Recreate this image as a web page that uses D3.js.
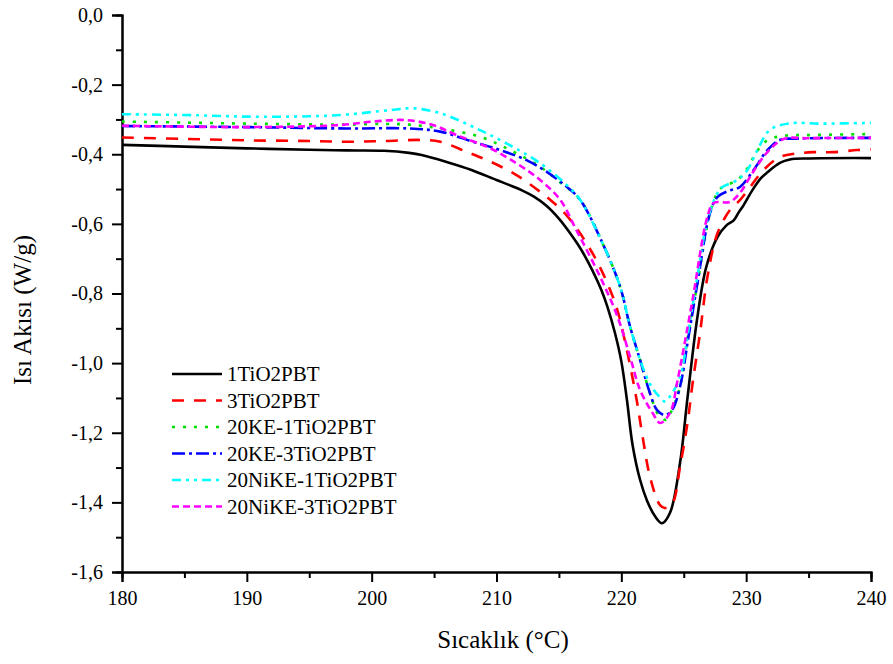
<!DOCTYPE html>
<html>
<head>
<meta charset="utf-8">
<script src="https://cdn.jsdelivr.net/npm/d3@7"></script>
<style>
  html, body { margin: 0; padding: 0; background: #fff; }
  svg { display: block; }
  text { font-family: "Liberation Serif", "Times New Roman", serif; fill: #000; }
</style>
</head>
<body>
<svg id="chart" width="893" height="664"></svg>
<script>
// DSC heat-flow curves: [temperature °C, heat flow W/g]
const s1TiO2PBT = [
  [180,-0.373],[185,-0.378],[190,-0.383],[195,-0.387],[198,-0.389],[201,-0.390],[203,-0.396],
  [204,-0.402],[206,-0.422],[208,-0.445],[210,-0.474],[211,-0.488],[212,-0.503],[213,-0.522],
  [214,-0.548],[215,-0.585],[215.9,-0.627],[216.8,-0.675],[217.7,-0.735],[218.4,-0.79],
  [218.9,-0.84],[219.5,-0.915],[220,-0.995],[220.45,-1.106],[220.9,-1.235],[221.5,-1.335],
  [222.06,-1.395],[222.7,-1.44],[223.26,-1.460],[223.9,-1.43],[224.7,-1.287],[225.3,-1.10],
  [226.06,-0.876],[226.8,-0.724],[227.7,-0.638],[228.4,-0.605],[229.0,-0.590],[229.4,-0.567],
  [229.8,-0.546],[230.5,-0.503],[231.2,-0.468],[231.7,-0.452],[232.7,-0.425],[233.5,-0.415],
  [235,-0.412],[240,-0.411]
];
const s3TiO2PBT = [
  [180,-0.352],[185,-0.356],[190,-0.360],[195,-0.362],[198,-0.364],[201,-0.362],[204,-0.359],
  [205.5,-0.364],[207.6,-0.393],[209.5,-0.421],[211.6,-0.46],[213.5,-0.508],[214.6,-0.54],
  [215.6,-0.575],[216.6,-0.622],[217.7,-0.685],[218.6,-0.748],[219.6,-0.838],[220.4,-0.955],
  [221.2,-1.10],[221.7,-1.21],[222.3,-1.327],[223.1,-1.408],[223.5,-1.416],[224.1,-1.402],
  [224.7,-1.298],[225.3,-1.172],[225.7,-1.06],[226.3,-0.914],[226.9,-0.752],[227.7,-0.627],
  [228.7,-0.56],[229.5,-0.532],[230.1,-0.505],[231.4,-0.445],[232.7,-0.408],[234,-0.398],
  [235.4,-0.394],[237,-0.394],[238.9,-0.388],[240,-0.386]
];
const s20KE1TiO2PBT = [
  [180,-0.306],[185,-0.309],[190,-0.312],[195,-0.314],[198,-0.315],[201,-0.313],[203,-0.315],
  [205.5,-0.326],[208.7,-0.35],[211.1,-0.388],[213.5,-0.436],[215,-0.478],[216.7,-0.531],
  [218.5,-0.656],[219.9,-0.78],[220.7,-0.895],[221.5,-0.991],[222.3,-1.087],[223,-1.15],
  [223.6,-1.163],[224.1,-1.13],[224.7,-1.068],[225.3,-0.93],[226.1,-0.77],[227.1,-0.569],
  [227.7,-0.51],[228.1,-0.494],[229.3,-0.474],[230.1,-0.44],[230.9,-0.39],[231.7,-0.36],
  [233,-0.347],[235,-0.345],[240,-0.342]
];
const s20KE3TiO2PBT = [
  [180,-0.319],[190,-0.322],[198,-0.326],[203,-0.326],[205.5,-0.335],[208.1,-0.364],
  [210.3,-0.388],[212.4,-0.417],[214,-0.45],[215.6,-0.493],[216.7,-0.531],[218.5,-0.656],
  [219.9,-0.78],[220.7,-0.895],[221.5,-0.991],[222.3,-1.087],[222.86,-1.135],[223.5,-1.149],
  [224.06,-1.135],[224.7,-1.068],[225.4,-0.92],[226.1,-0.77],[227.1,-0.569],[227.7,-0.523],
  [228.6,-0.505],[229.5,-0.494],[230.6,-0.445],[231.7,-0.388],[232.7,-0.359],[234,-0.355],
  [240,-0.353]
];
const s20NiKE1TiO2PBT = [
  [180,-0.285],[186,-0.288],[190,-0.292],[195,-0.291],[198,-0.286],[201.5,-0.273],[203.3,-0.268],
  [205.5,-0.282],[208.1,-0.321],[210.8,-0.369],[213.5,-0.426],[215.9,-0.498],[216.7,-0.531],
  [218.5,-0.656],[219.9,-0.78],[220.7,-0.895],[221.5,-0.99],[222.3,-1.06],[223,-1.095],
  [223.5,-1.11],[224,-1.09],[224.7,-1.04],[225.4,-0.9],[226.1,-0.75],[226.9,-0.589],
  [227.7,-0.511],[228.1,-0.494],[229.3,-0.474],[230.1,-0.445],[230.9,-0.388],[231.9,-0.33],
  [233.5,-0.311],[236,-0.312],[240,-0.31]
];
const s20NiKE3TiO2PBT = [
  [180,-0.318],[190,-0.322],[197.5,-0.316],[200.1,-0.306],[202.8,-0.302],[204.9,-0.316],
  [206.8,-0.345],[209.5,-0.383],[211.6,-0.426],[213.5,-0.474],[215.1,-0.531],[216.4,-0.618],
  [218.3,-0.752],[219.7,-0.867],[220.7,-0.982],[221.5,-1.077],[222.5,-1.143],[223.1,-1.172],
  [223.9,-1.143],[224.5,-1.05],[225.7,-0.819],[226.9,-0.579],[227.4,-0.54],[228.7,-0.537],
  [229.5,-0.511],[230.5,-0.454],[231.7,-0.394],[233,-0.356],[235,-0.354],[240,-0.353]
];

const seriesNames = ["1TiO2PBT","3TiO2PBT","20KE-1TiO2PBT","20KE-3TiO2PBT","20NiKE-1TiO2PBT","20NiKE-3TiO2PBT"];
const seriesData = [s1TiO2PBT, s3TiO2PBT, s20KE1TiO2PBT, s20KE3TiO2PBT, s20NiKE1TiO2PBT, s20NiKE3TiO2PBT];
const seriesColors = ["#000000","#ff0000","#00e000","#0000ff","#00ffff","#ff00ff"];
const seriesDash = [null, "12,10", "3,8", "13,4,3,4", "9,5,3,5,3,5", "7,4"];

const xTicks = [180,190,200,210,220,230,240];
const yTicks = [0,-0.2,-0.4,-0.6,-0.8,-1.0,-1.2,-1.4,-1.6];

const svg = d3.select("#chart");
const x = d3.scaleLinear().domain([180,240]).range([122,871]);
const y = d3.scaleLinear().domain([0,-1.6]).range([15,572]);

const fmtY = v => d3.format(".1f")(v).replace(".", ",").replace("−","-");

// Axes with major and minor ticks
const xAxisMinor = d3.axisBottom(x).tickValues(d3.range(185,240,10)).tickSize(6).tickFormat("");
const xAxis = d3.axisBottom(x).tickValues(xTicks).tickSize(10).tickPadding(9).tickFormat(d3.format("d"));
const yAxisMinor = d3.axisLeft(y).tickValues(d3.range(-0.1,-1.6,-0.2)).tickSize(6).tickFormat("");
const yAxis = d3.axisLeft(y).tickValues(yTicks).tickSize(10).tickPadding(9).tickFormat(fmtY);

function styleAxis(g) {
  g.attr("font-family", "'Liberation Serif', serif");
  g.selectAll("path.domain").attr("stroke","#000").attr("stroke-width",2);
  g.selectAll(".tick line").attr("stroke","#000").attr("stroke-width",2);
  g.selectAll(".tick text").style("font-family","'Liberation Serif', serif").style("font-size","20px").attr("fill","#000");
}
svg.append("g").attr("transform","translate(0,572)").call(xAxisMinor).call(styleAxis);
svg.append("g").attr("transform","translate(0,572)").call(xAxis).call(styleAxis);
svg.append("g").attr("transform","translate(122,0)").call(yAxisMinor).call(styleAxis);
svg.append("g").attr("transform","translate(122,0)").call(yAxis).call(styleAxis);

// Curves
const line = d3.line().x(d => x(d[0])).y(d => y(d[1])).curve(d3.curveCatmullRom.alpha(0.5));
seriesData.forEach((data, i) => {
  svg.append("path")
    .datum(data)
    .attr("fill","none")
    .attr("stroke", seriesColors[i])
    .attr("stroke-width", 2.6)
    .attr("stroke-dasharray", seriesDash[i])
    .attr("d", line);
});

// Axis titles
svg.append("text")
  .attr("x", 503).attr("y", 648)
  .attr("text-anchor","middle")
  .style("font-size","25px")
  .text("Sıcaklık (°C)");
svg.append("text")
  .attr("transform","translate(31,310) rotate(-90)")
  .attr("text-anchor","middle")
  .style("font-size","25px")
  .text("Isı Akısı (W/g)");

// Legend
const legend = svg.append("g");
seriesNames.forEach((name, i) => {
  const ly = 374 + i * 26.5;
  legend.append("line")
    .attr("x1",172).attr("x2",222).attr("y1",ly).attr("y2",ly)
    .attr("stroke", seriesColors[i]).attr("stroke-width",2.6)
    .attr("stroke-dasharray", seriesDash[i]);
  legend.append("text")
    .attr("x",227).attr("y",ly + 7)
    .style("font-size","21px")
    .text(name);
});
</script>
</body>
</html>
